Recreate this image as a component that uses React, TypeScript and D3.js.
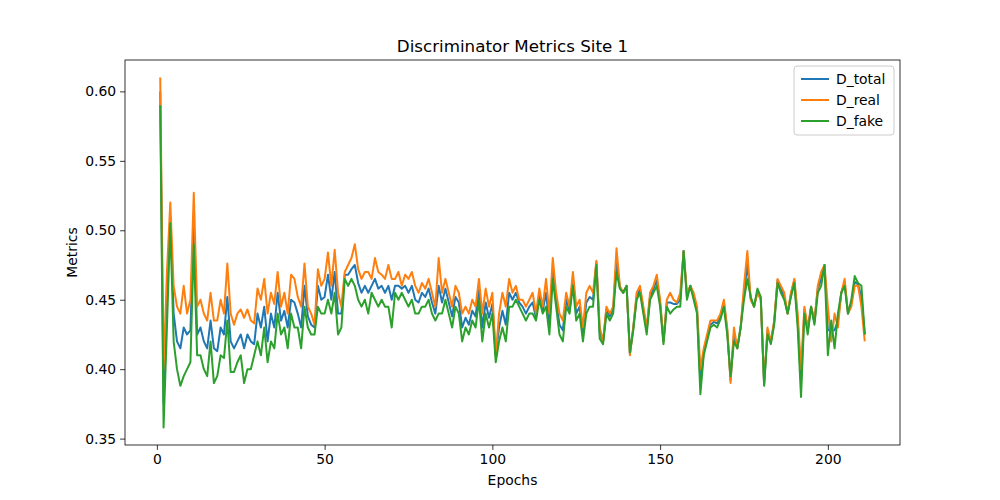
import React, { useEffect, useRef } from "react";
import * as d3 from "d3";

const dReal = [
  0.61, 0.40, 0.47, 0.52, 0.46, 0.445, 0.44, 0.46, 0.44, 0.45, 0.527, 0.445, 0.45, 0.44, 0.435, 0.455, 0.435, 0.435, 0.45, 0.44, 0.476, 0.44, 0.432, 0.44, 0.443, 0.437, 0.443, 0.435, 0.433, 0.458,
  0.45, 0.465, 0.44, 0.455, 0.447, 0.47, 0.445, 0.455, 0.44, 0.468, 0.465, 0.452, 0.445, 0.476, 0.445, 0.44, 0.432, 0.472, 0.46, 0.465, 0.484, 0.46, 0.486, 0.455, 0.445, 0.47, 0.475, 0.48, 0.49, 0.472,
  0.465, 0.47, 0.47, 0.465, 0.48, 0.47, 0.468, 0.465, 0.475, 0.465, 0.465, 0.47, 0.46, 0.468, 0.465, 0.47, 0.46, 0.455, 0.462, 0.458, 0.465, 0.455, 0.445, 0.48, 0.455, 0.465, 0.455, 0.445, 0.46, 0.455,
  0.44, 0.445, 0.44, 0.45, 0.445, 0.465, 0.44, 0.458, 0.445, 0.455, 0.41, 0.44, 0.455, 0.445, 0.465, 0.455, 0.46, 0.45, 0.45, 0.445, 0.45, 0.455, 0.44, 0.458, 0.445, 0.465, 0.44, 0.48, 0.455, 0.44, 0.435, 0.455, 0.445, 0.47, 0.445, 0.45, 0.43, 0.455, 0.46, 0.455,
  0.478, 0.43, 0.42, 0.445, 0.44, 0.445, 0.487, 0.46, 0.455, 0.46, 0.41, 0.43, 0.455, 0.46, 0.445, 0.43, 0.455, 0.46, 0.468, 0.45, 0.42, 0.45, 0.455, 0.45, 0.448, 0.455, 0.485, 0.455, 0.46, 0.455,
  0.445, 0.40, 0.415, 0.425, 0.435, 0.435, 0.435, 0.44, 0.45, 0.43, 0.39, 0.43, 0.415, 0.43, 0.46, 0.485, 0.45, 0.445, 0.455, 0.45, 0.39, 0.43, 0.42, 0.435, 0.465, 0.46, 0.455, 0.44, 0.455, 0.465,
  0.44, 0.40, 0.445, 0.43, 0.445, 0.435, 0.46, 0.47, 0.475, 0.445, 0.42, 0.44, 0.43, 0.455, 0.465, 0.44, 0.445, 0.46, 0.46, 0.445, 0.42,
];

const dFake = [
  0.59, 0.358, 0.43, 0.505, 0.42, 0.40, 0.388, 0.395, 0.40, 0.405, 0.49, 0.41, 0.41, 0.40, 0.395, 0.42, 0.39, 0.395, 0.41, 0.408, 0.435, 0.398, 0.398, 0.405, 0.41, 0.39, 0.40, 0.40, 0.41, 0.42,
  0.41, 0.43, 0.405, 0.42, 0.415, 0.44, 0.425, 0.43, 0.415, 0.44, 0.43, 0.43, 0.415, 0.445, 0.43, 0.425, 0.425, 0.445, 0.44, 0.44, 0.45, 0.44, 0.455, 0.425, 0.43, 0.465, 0.46, 0.465, 0.46, 0.45,
  0.445, 0.45, 0.44, 0.455, 0.45, 0.445, 0.45, 0.445, 0.445, 0.43, 0.455, 0.45, 0.455, 0.45, 0.445, 0.45, 0.44, 0.44, 0.445, 0.445, 0.45, 0.44, 0.435, 0.44, 0.44, 0.45, 0.44, 0.43, 0.445, 0.44,
  0.42, 0.43, 0.425, 0.435, 0.43, 0.45, 0.42, 0.44, 0.43, 0.44, 0.405, 0.42, 0.43, 0.42, 0.445, 0.445, 0.45, 0.445, 0.44, 0.435, 0.44, 0.44, 0.435, 0.45, 0.44, 0.445, 0.425, 0.465, 0.445, 0.425, 0.42, 0.445, 0.44, 0.46, 0.435, 0.44, 0.42, 0.44, 0.445, 0.445,
  0.475, 0.422, 0.418, 0.44, 0.435, 0.44, 0.47, 0.458, 0.455, 0.46, 0.412, 0.428, 0.45, 0.455, 0.44, 0.425, 0.45, 0.455, 0.46, 0.445, 0.418, 0.445, 0.44, 0.443, 0.445, 0.445, 0.485, 0.45, 0.46, 0.45,
  0.44, 0.382, 0.41, 0.42, 0.43, 0.432, 0.43, 0.436, 0.445, 0.425, 0.395, 0.42, 0.415, 0.43, 0.45, 0.465, 0.452, 0.445, 0.458, 0.452, 0.388, 0.425, 0.418, 0.432, 0.462, 0.455, 0.45, 0.44, 0.452, 0.462,
  0.43, 0.38, 0.44, 0.425, 0.445, 0.432, 0.455, 0.46, 0.475, 0.41, 0.435, 0.415, 0.44, 0.455, 0.46, 0.44, 0.45, 0.467, 0.462, 0.46, 0.425,
];

const dTotal = [
  0.60, 0.375, 0.45, 0.51, 0.44, 0.42, 0.415, 0.43, 0.425, 0.428, 0.505, 0.425, 0.43, 0.42, 0.415, 0.435, 0.415, 0.413, 0.43, 0.425, 0.452, 0.42, 0.415, 0.42, 0.425, 0.415, 0.425, 0.42, 0.418, 0.44,
  0.43, 0.445, 0.42, 0.44, 0.43, 0.455, 0.435, 0.442, 0.43, 0.45, 0.448, 0.44, 0.43, 0.46, 0.438, 0.432, 0.43, 0.46, 0.45, 0.452, 0.468, 0.45, 0.47, 0.44, 0.44, 0.468, 0.468, 0.472, 0.475, 0.462,
  0.455, 0.46, 0.455, 0.46, 0.465, 0.458, 0.46, 0.455, 0.46, 0.45, 0.46, 0.46, 0.458, 0.46, 0.455, 0.46, 0.45, 0.448, 0.455, 0.452, 0.458, 0.448, 0.44, 0.46, 0.448, 0.458, 0.448, 0.438, 0.452, 0.448,
  0.43, 0.437, 0.432, 0.442, 0.438, 0.457, 0.43, 0.448, 0.437, 0.447, 0.41, 0.43, 0.442, 0.432, 0.455, 0.45, 0.455, 0.448, 0.445, 0.44, 0.445, 0.448, 0.437, 0.454, 0.442, 0.455, 0.432, 0.472, 0.45, 0.432, 0.428, 0.45, 0.442, 0.465, 0.44, 0.445, 0.425, 0.448, 0.452, 0.45,
  0.477, 0.426, 0.42, 0.443, 0.438, 0.443, 0.478, 0.459, 0.455, 0.46, 0.411, 0.43, 0.452, 0.458, 0.443, 0.428, 0.452, 0.458, 0.464, 0.448, 0.42, 0.448, 0.448, 0.447, 0.447, 0.45, 0.485, 0.452, 0.46, 0.452,
  0.443, 0.39, 0.412, 0.423, 0.432, 0.434, 0.433, 0.438, 0.448, 0.428, 0.392, 0.425, 0.415, 0.43, 0.455, 0.475, 0.451, 0.445, 0.456, 0.451, 0.389, 0.428, 0.419, 0.434, 0.464, 0.458, 0.452, 0.44, 0.454, 0.464,
  0.435, 0.39, 0.443, 0.428, 0.445, 0.434, 0.458, 0.465, 0.475, 0.428, 0.428, 0.428, 0.435, 0.455, 0.462, 0.44, 0.448, 0.463, 0.461, 0.452, 0.425,
];

const series = [
  { name: "D_total", values: dTotal, color: "#1f77b4" },
  { name: "D_real", values: dReal, color: "#ff7f0e" },
  { name: "D_fake", values: dFake, color: "#2ca02c" },
];

const xTicks = [0, 50, 100, 150, 200];
const yTicks = [0.35, 0.4, 0.45, 0.5, 0.55, 0.6];

const W = 1000;
const H = 500;
const m = { top: 60, right: 100, bottom: 55, left: 125 };

export default function App() {
  const ref = useRef<SVGSVGElement>(null);

  useEffect(() => {
    if (!ref.current) return;
    const svg = d3.select(ref.current);
    svg.selectAll("*").remove();
    const font = "DejaVu Sans, sans-serif";

    const x = d3.scaleLinear().domain([-9.5, 221.5]).range([m.left, W - m.right]);
    const y = d3.scaleLinear().domain([0.3454, 0.6226]).range([H - m.bottom, m.top]);

    const line = d3
      .line<number>()
      .x((_, i) => x(i + 1))
      .y((d) => y(d));

    series.forEach((s) => {
      svg
        .append("path")
        .datum(s.values)
        .attr("d", line)
        .attr("fill", "none")
        .attr("stroke", s.color)
        .attr("stroke-width", 2)
        .attr("stroke-linejoin", "round");
    });

    const xAxis = svg
      .append("g")
      .attr("transform", `translate(0,${H - m.bottom})`)
      .call(d3.axisBottom(x).tickValues(xTicks).tickSize(4.9).tickPadding(4).tickSizeOuter(0));
    const yAxis = svg
      .append("g")
      .attr("transform", `translate(${m.left},0)`)
      .call(d3.axisLeft(y).tickValues(yTicks).tickFormat(d3.format(".2f")).tickSize(4.9).tickPadding(4).tickSizeOuter(0));
    [xAxis, yAxis].forEach((a) => {
      a.selectAll("text").attr("font-family", font).attr("font-size", 13.9).attr("fill", "#000");
      a.selectAll("line").attr("stroke", "#000").attr("stroke-width", 0.8);
      a.select(".domain").remove();
    });

    svg
      .append("rect")
      .attr("x", m.left)
      .attr("y", m.top)
      .attr("width", W - m.left - m.right)
      .attr("height", H - m.top - m.bottom)
      .attr("fill", "none")
      .attr("stroke", "#000")
      .attr("stroke-width", 0.8);

    svg
      .append("text")
      .attr("x", (m.left + W - m.right) / 2)
      .attr("y", m.top - 8)
      .attr("text-anchor", "middle")
      .attr("font-family", font)
      .attr("font-size", 16.7)
      .text("Discriminator Metrics Site 1");

    svg
      .append("text")
      .attr("x", (m.left + W - m.right) / 2)
      .attr("y", H - 15)
      .attr("text-anchor", "middle")
      .attr("font-family", font)
      .attr("font-size", 13.9)
      .text("Epochs");

    svg
      .append("text")
      .attr("transform", `translate(${m.left - 48},${(m.top + H - m.bottom) / 2}) rotate(-90)`)
      .attr("text-anchor", "middle")
      .attr("font-family", font)
      .attr("font-size", 13.9)
      .text("Metrics");

    // legend
    const lg = svg.append("g").attr("transform", `translate(794,66)`);
    lg.append("rect")
      .attr("width", 100)
      .attr("height", 69)
      .attr("rx", 3)
      .attr("fill", "#fff")
      .attr("fill-opacity", 0.8)
      .attr("stroke", "#ccc");
    series.forEach((s, i) => {
      const row = lg.append("g").attr("transform", `translate(0,${13 + i * 21})`);
      row.append("line").attr("x1", 7).attr("x2", 35).attr("stroke", s.color).attr("stroke-width", 2);
      row
        .append("text")
        .attr("x", 42)
        .attr("dy", "0.35em")
        .attr("font-family", font)
        .attr("font-size", 13.9)
        .text(s.name);
    });
  }, []);

  return <svg ref={ref} width={W} height={H} style={{ display: "block", margin: -8 }} />;
}
